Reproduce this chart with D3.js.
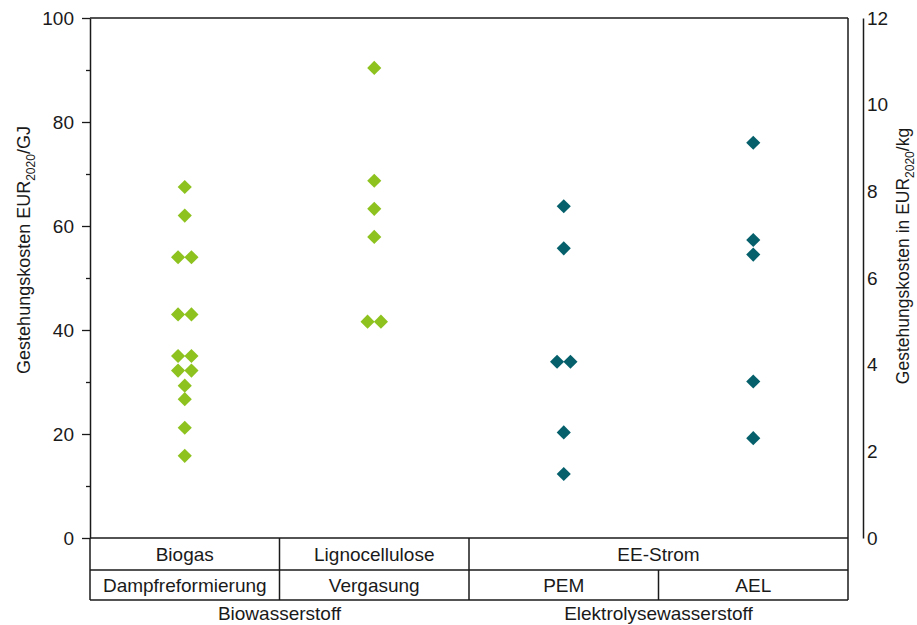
<!DOCTYPE html>
<html>
<head>
<meta charset="utf-8">
<script src="https://cdn.jsdelivr.net/npm/d3@7"></script>
<style>
  body { margin: 0; background: #fff; }
  text { font-family: "Liberation Sans", Arial, sans-serif; fill: #1a1a1a; }
</style>
</head>
<body>
<svg width="917" height="625"></svg>
<script>
var width = 917, height = 625;

// categories (process) and their values in EUR2020/GJ
var categories = ['Dampfreformierung', 'Vergasung', 'PEM', 'AEL'];
var feedstocks = ['Biogas', 'Lignocellulose', 'EE-Strom'];
var groups = ['Biowasserstoff', 'Elektrolysewasserstoff'];

var biogasValues = [67.5, 62, 54, 54, 43, 43, 35, 35, 32.2, 32.2, 29.3, 26.7, 21.2, 15.8];
var lignoValues = [90.4, 68.7, 63.3, 57.9, 41.6, 41.6];
var pemValues = [63.8, 55.7, 33.9, 33.9, 20.3, 12.3];
var aelValues = [76.0, 57.3, 54.5, 30.1, 19.2];

var leftTicks = [0, 20, 40, 60, 80, 100];
var leftMinor = [10, 30, 50, 70, 90];
var rightTicks = [0, 2, 4, 6, 8, 10, 12];

var green = '#8dc21f', teal = '#05606c';

var series = [
  {cat: 'Dampfreformierung', values: biogasValues, color: green},
  {cat: 'Vergasung', values: lignoValues, color: green},
  {cat: 'PEM', values: pemValues, color: teal},
  {cat: 'AEL', values: aelValues, color: teal}
];

var svg = d3.select('svg');
var plotLeft = 90, plotRight = 848, plotTop = 18, plotBottom = 538;
var row1 = 570, row2 = 600;
var fs = '19px';

var x = d3.scaleBand().domain(categories).range([plotLeft, plotRight]);
var y = d3.scaleLinear().domain([0, 100]).range([plotBottom, plotTop]);
var yR = d3.scaleLinear().domain([0, 12]).range([plotBottom, plotTop]);

// left axis
var gLeft = svg.append('g').attr('transform', 'translate(' + plotLeft + ',0)')
  .call(d3.axisLeft(y).tickValues(leftTicks).tickSize(8).tickSizeOuter(0).tickPadding(8));
gLeft.selectAll('text').style('font-size', fs);
svg.append('g').attr('transform', 'translate(' + plotLeft + ',0)')
  .call(d3.axisLeft(y).tickValues(leftMinor).tickSize(4).tickFormat(''))
  .select('.domain').remove();

// right axis (separate line, no ticks)
var gRight = svg.append('g').attr('transform', 'translate(863,0)')
  .call(d3.axisRight(yR).tickValues(rightTicks).tickSize(0).tickSizeOuter(0).tickPadding(4));
gRight.selectAll('text').style('font-size', fs);
svg.selectAll('.domain').attr('stroke', '#1a1a1a').attr('stroke-width', 1.5);
svg.selectAll('.tick line').attr('stroke', '#1a1a1a').attr('stroke-width', 1.3);

// frame and table
var lines = svg.append('g').attr('stroke', '#1a1a1a').attr('stroke-width', 1.5);
lines.append('line').attr('x1', plotLeft).attr('x2', plotRight).attr('y1', plotTop).attr('y2', plotTop);
lines.append('line').attr('x1', plotRight).attr('x2', plotRight).attr('y1', plotTop).attr('y2', row2);
lines.append('line').attr('x1', plotLeft).attr('x2', plotLeft).attr('y1', plotBottom).attr('y2', row2);
[plotBottom, row1, row2].forEach(function(v) {
  lines.append('line').attr('x1', plotLeft).attr('x2', plotRight).attr('y1', v).attr('y2', v);
});
// dividers
[x('Vergasung'), x('PEM')].forEach(function(v) {
  lines.append('line').attr('x1', v).attr('x2', v).attr('y1', plotBottom).attr('y2', row2);
});
lines.append('line').attr('x1', x('AEL')).attr('x2', x('AEL')).attr('y1', row1).attr('y2', row2);

// table labels
var bw = x.bandwidth();
var feedX = [x('Dampfreformierung') + bw / 2, x('Vergasung') + bw / 2, x('PEM') + bw];
svg.selectAll('.feed').data(feedstocks).enter().append('text')
  .attr('x', function(d, i) { return feedX[i]; })
  .attr('y', 561).attr('text-anchor', 'middle').style('font-size', fs)
  .text(function(d) { return d; });
svg.selectAll('.cat').data(categories).enter().append('text')
  .attr('x', function(d) { return x(d) + bw / 2; })
  .attr('y', 592).attr('text-anchor', 'middle').style('font-size', fs)
  .text(function(d) { return d; });
svg.selectAll('.grp').data(groups).enter().append('text')
  .attr('x', function(d, i) { return i == 0 ? x('Vergasung') : x('AEL'); })
  .attr('y', 620).attr('text-anchor', 'middle').style('font-size', fs)
  .text(function(d) { return d; });

// axis titles
var tl = svg.append('text').attr('transform', 'translate(30,250) rotate(-90)')
  .attr('text-anchor', 'middle').style('font-size', '18px');
tl.append('tspan').text('Gestehungskosten EUR');
tl.append('tspan').attr('dy', 5).style('font-size', '12px').text('2020');
tl.append('tspan').attr('dy', -5).text('/GJ');

var tr = svg.append('text').attr('transform', 'translate(909,256) rotate(-90)')
  .attr('text-anchor', 'middle').style('font-size', '17.5px');
tr.append('tspan').text('Gestehungskosten in EUR');
tr.append('tspan').attr('dy', 5).style('font-size', '12px').text('2020');
tr.append('tspan').attr('dy', -5).text('/kg');

// points: equal values within a category are dodged side by side
var diamond = d3.symbol().type(d3.symbolSquare).size(100);
var points = [];
series.forEach(function(s) {
  var counts = d3.rollup(s.values, function(v) { return v.length; }, function(v) { return v; });
  var seen = new Map();
  s.values.forEach(function(v) {
    var n = counts.get(v), k = seen.get(v) || 0;
    seen.set(v, k + 1);
    points.push({cat: s.cat, value: v, color: s.color, dodge: (k - (n - 1) / 2) * 13.4});
  });
});

svg.append('g').selectAll('path').data(points).enter().append('path')
  .attr('d', diamond)
  .attr('fill', function(d) { return d.color; })
  .attr('transform', function(d) {
    return 'translate(' + (x(d.cat) + bw / 2 + d.dodge) + ',' + y(d.value) + ') rotate(45)';
  });
</script>
</body>
</html>
